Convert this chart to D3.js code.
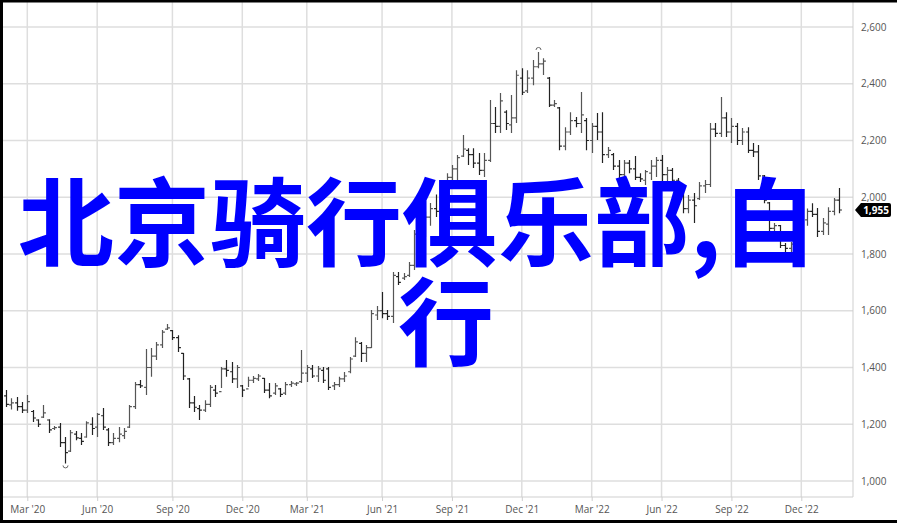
<!DOCTYPE html>
<html>
<head>
<meta charset="utf-8">
<script src="https://cdn.jsdelivr.net/npm/d3@7"></script>
<style>
  html, body { margin: 0; padding: 0; background: #fff; }
  svg { display: block; }
</style>
</head>
<body>
<svg id="chart"></svg>
<script>
const w = 897;
const h = 523;

// weekly bars, Monday dated
const firstWeek = "2020-02-03";
const lastWeek = "2023-01-23";
const yTicks = [1000, 1200, 1400, 1600, 1800, 2000, 2200, 2400, 2600];
const tickMonths = [2, 5, 8, 11];
const overlayLines = ["北京骑行俱乐部,自", "行"];

const high = [1321,1292,1296,1278,1303,1250,1218,1268,1218,1194,1204,1155,1180,1176,1169,1211,1225,1240,1257,1187,
  1169,1190,1187,1268,1349,1356,1465,1469,1490,1532,1553,1532,1514,1451,1363,1300,1268,1285,1338,1338,
  1402,1426,1419,1409,1338,1367,1370,1377,1363,1345,1345,1328,1349,1352,1349,1462,1409,1409,1405,1402,
  1402,1349,1367,1384,1437,1507,1490,1479,1603,1617,1666,1603,1737,1737,1733,1772,1885,1900,1950,1980,
  2010,2060,2085,2114,2149,2219,2173,2173,2156,2156,2343,2318,2367,2307,2360,2448,2455,2448,2484,2512,
  2490,2424,2343,2318,2247,2300,2283,2371,2279,2262,2297,2300,2177,2156,2131,2131,2131,2145,2085,2096,
  2131,2142,2149,2107,2103,2068,2043,2008,2015,2054,2061,2262,2262,2353,2300,2279,2262,2244,2247,2191,
  2184,2078,1983,1909,1902,1839,1842,1900,1930,1960,1979,1962,1927,1965,1997,2033];
const low = [1261,1252,1248,1240,1240,1208,1190,1222,1169,1180,1120,1062,1102,1144,1127,1152,1162,1155,1180,1123,
  1127,1137,1148,1187,1254,1328,1303,1367,1426,1469,1532,1497,1455,1356,1257,1243,1215,1243,1261,1296,
  1328,1367,1345,1328,1296,1331,1345,1352,1310,1292,1303,1296,1303,1331,1335,1345,1349,1363,1349,1345,
  1321,1321,1331,1349,1380,1437,1419,1419,1469,1567,1574,1567,1557,1691,1708,1719,1744,1820,1860,1900,
  1930,1980,2050,2061,2050,2142,2114,2103,2078,2071,2124,2226,2226,2237,2226,2262,2360,2367,2395,2455,
  2431,2318,2318,2166,2166,2219,2247,2226,2166,2156,2202,2121,2138,2096,2061,2071,2085,2061,2054,2043,
  2061,2071,2054,2054,2050,2015,1944,1944,1909,1990,2015,2036,2212,2212,2212,2191,2184,2184,2156,2142,
  2061,1979,1874,1874,1821,1807,1804,1840,1870,1900,1930,1860,1867,1867,1937,1944];
const open = [1300,1268,1275,1262,1250,1245,1215,1225,1215,1185,1190,1135,1105,1165,1150,1155,1200,1190,1230,1180,
  1135,1150,1160,1190,1262,1340,1330,1400,1440,1480,1535,1530,1505,1450,1360,1275,1255,1250,1270,1320,
  1315,1395,1385,1360,1335,1325,1355,1360,1362,1320,1310,1325,1310,1340,1342,1350,1380,1395,1370,1390,
  1395,1335,1340,1360,1385,1440,1485,1450,1470,1585,1600,1590,1580,1720,1715,1725,1760,1865,1845,1930,
  1960,1955,2055,2070,2100,2145,2165,2150,2120,2095,2130,2260,2250,2300,2255,2280,2420,2375,2420,2460,
  2470,2420,2325,2315,2180,2230,2270,2260,2270,2200,2250,2230,2150,2150,2110,2080,2120,2100,2070,2060,
  2085,2110,2130,2080,2095,2060,2030,1960,1990,1995,2040,2045,2240,2225,2280,2230,2250,2200,2230,2165,
  2160,2075,1980,1890,1900,1830,1820,1840,1890,1920,1950,1940,1880,1905,1950,1990];
const close = [1270,1275,1262,1250,1280,1222,1200,1240,1180,1188,1135,1100,1170,1152,1140,1205,1185,1235,1190,1135,
  1150,1165,1175,1262,1340,1335,1400,1440,1480,1525,1540,1505,1470,1370,1275,1260,1250,1270,1330,1310,
  1395,1390,1360,1400,1320,1355,1362,1370,1320,1300,1335,1305,1340,1345,1345,1380,1400,1370,1395,1355,
  1330,1340,1360,1370,1430,1490,1450,1470,1590,1600,1590,1580,1725,1700,1720,1760,1870,1840,1930,1960,
  1950,2050,2070,2100,2140,2170,2150,2120,2095,2130,2260,2250,2340,2260,2280,2430,2370,2420,2460,2470,
  2480,2325,2330,2180,2230,2270,2260,2290,2200,2250,2230,2150,2165,2110,2080,2120,2100,2070,2065,2090,
  2110,2130,2080,2095,2060,2030,1960,1990,1970,2040,2045,2240,2225,2280,2230,2250,2200,2230,2165,2160,
  2075,1990,1890,1900,1830,1820,1835,1890,1920,1950,1940,1880,1910,1950,1990,1955];

const weeks = d3.utcMonday.range(new Date(firstWeek), d3.utcDay.offset(new Date(lastWeek), 1));
const bars = weeks.map((d, i) => ({date: d, o: open[i], h: high[i], l: low[i], c: close[i]}));

const plotLeft = 3, plotRight = 853, plotTop = 2, plotBottom = 497;

var chart = d3.select("#chart")
  .attr("width", w)
  .attr("height", h);

chart.append("rect").attr("width", w).attr("height", h).attr("fill", "#fff");

const xScale = d3.scaleUtc()
                 .domain([new Date("2020-03-02"), new Date("2022-12-05")])
                 .range([27.3, 801.3]);

const yScale = d3.scaleLinear()
                 .domain([1000, 2600])
                 .range([481, 27]);

// first weekly bar of Mar / Jun / Sep / Dec
const xTicks = weeks.filter(d => tickMonths.includes(d.getUTCMonth()) && d.getUTCDate() <= 7);

// grid
chart.append("g")
     .selectAll("line")
     .data(yTicks)
     .join("line")
     .attr("x1", plotLeft).attr("x2", plotRight)
     .attr("y1", d => yScale(d)).attr("y2", d => yScale(d))
     .attr("stroke", "#dedede").attr("stroke-width", 1.5);

chart.append("g")
     .selectAll("line")
     .data(xTicks)
     .join("line")
     .attr("x1", d => xScale(d)).attr("x2", d => xScale(d))
     .attr("y1", plotTop).attr("y2", plotBottom)
     .attr("stroke", "#dedede").attr("stroke-width", 1.5);

// frame
chart.append("path")
     .attr("d", `M${plotLeft},${plotBottom}H${plotRight}V${plotTop}`)
     .attr("fill", "none")
     .attr("stroke", "#cfcfcf")
     .attr("stroke-width", 1);

const xAxis = d3.axisBottom(xScale)
                .tickValues(xTicks)
                .tickFormat(d3.utcFormat("%b '%y"))
                .tickSize(4)
                .tickPadding(5);

const yAxis = d3.axisRight(yScale)
                .tickValues(yTicks)
                .tickFormat(d3.format(","))
                .tickSize(0)
                .tickPadding(8);

const gx = chart.append("g")
     .attr("id", "x-axis")
     .attr("transform", `translate(0, ${plotBottom})`)
     .call(xAxis);

const gy = chart.append("g")
     .attr("id", "y-axis")
     .attr("transform", `translate(${plotRight}, 0)`)
     .call(yAxis);

[gx, gy].forEach(g => {
  g.select(".domain").remove();
  g.selectAll("line").attr("stroke", "#cfcfcf");
  g.selectAll("text")
   .attr("fill", "#555")
   .style("font-family", "'Open Sans', 'Noto Sans', sans-serif")
   .style("font-size", "10px");
});

// OHLC bars
const tick = 2.4;
const barG = chart.append("g")
     .attr("stroke", "#3a3a3a")
     .attr("stroke-width", 1.2)
     .attr("fill", "none");

barG.selectAll("path")
    .data(bars)
    .join("path")
    .attr("d", d => {
      const x = Math.round(xScale(d.date)) + 0.5;
      return `M${x},${yScale(d.h)}V${yScale(d.l)}` +
             `M${x - tick},${yScale(d.o)}H${x}` +
             `M${x},${yScale(d.c)}H${x + tick}`;
    })
    .attr("stroke", d => d.c >= d.o ? "#555" : "#222");

// high / low markers
const hiBar = bars[d3.maxIndex(bars, d => d.h)];
const loBar = bars[d3.minIndex(bars, d => d.l)];
chart.append("path")
     .attr("d", () => {
       const x = Math.round(xScale(hiBar.date)) + 0.5, y = yScale(hiBar.h) - 2;
       return `M${x - 2.5},${y}A2.5,2.5 0 0 1 ${x + 2.5},${y}`;
     })
     .attr("fill", "none").attr("stroke", "#666").attr("stroke-width", 1);
chart.append("path")
     .attr("d", () => {
       const x = Math.round(xScale(loBar.date)) + 0.5, y = yScale(loBar.l) + 2;
       return `M${x - 2.5},${y}A2.5,2.5 0 0 0 ${x + 2.5},${y}`;
     })
     .attr("fill", "none").attr("stroke", "#666").attr("stroke-width", 1);

// last value tag
const last = bars[bars.length - 1];
const ly = yScale(last.c);
chart.append("path")
     .attr("d", `M${plotRight + 2},${ly}L${plotRight + 8},${ly - 7}H${plotRight + 36}Q${plotRight + 38},${ly - 7} ${plotRight + 38},${ly - 5}V${ly + 5}Q${plotRight + 38},${ly + 7} ${plotRight + 36},${ly + 7}H${plotRight + 8}Z`)
     .attr("fill", "#000");
chart.append("text")
     .attr("x", plotRight + 23)
     .attr("y", ly)
     .attr("dy", "0.35em")
     .attr("text-anchor", "middle")
     .attr("fill", "#fff")
     .style("font-family", "'Open Sans', 'Noto Sans', sans-serif")
     .style("font-size", "10px")
     .style("font-weight", "bold")
     .text(d3.format(",")(last.c));

// overlay text
chart.append("g")
     .selectAll("text")
     .data(overlayLines)
     .join("text")
     .attr("x", (d, i) => i === 0 ? 18 : 398)
     .attr("y", (d, i) => 258 + i * 100)
     .attr("fill", "#0000ff")
     .style("font-family", "'Noto Sans CJK SC', sans-serif")
     .style("font-size", "96px")
     .style("font-weight", "bold")
     .text(d => d);

// outer border (left, top, bottom)
chart.append("path")
     .attr("d", `M1.5,0V${h}M0,1H${w}M0,${h - 1.5}H${w}`)
     .attr("stroke", "#000")
     .attr("stroke-width", 3)
     .attr("fill", "none");
</script>
</body>
</html>
